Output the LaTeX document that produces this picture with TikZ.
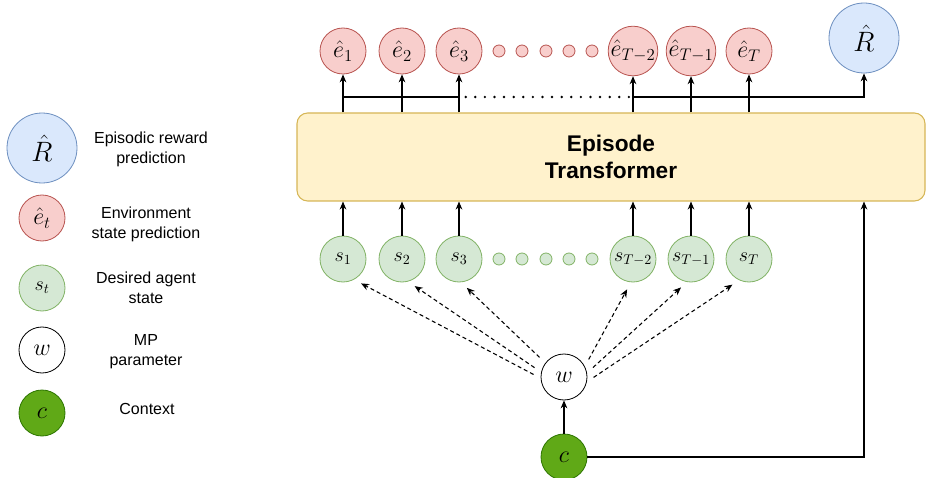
\RequirePackage{fix-cm}
\documentclass[tikz,border=0pt]{standalone}
\usepackage{fontspec}
\newfontfamily\sflabel{Liberation Sans}
\usetikzlibrary{arrows.meta,positioning}
\definecolor{efill}{HTML}{F8CECC}\definecolor{edraw}{HTML}{B85450}
\definecolor{sfill}{HTML}{D5E8D4}\definecolor{sdraw}{HTML}{82B366}
\definecolor{rfill}{HTML}{DAE8FC}\definecolor{rdraw}{HTML}{6C8EBF}
\definecolor{cfill}{HTML}{60A917}\definecolor{cdraw}{HTML}{2D7600}
\definecolor{tfill}{HTML}{FFF2CC}\definecolor{tdraw}{HTML}{D6B656}
\tikzset{
  ball/.style={circle,draw,line width=.6pt,minimum size=34.5pt,inner sep=0pt},
  enode/.style={ball,fill=efill,draw=edraw,font=\fontsize{18}{20}\selectfont},
  snode/.style={ball,fill=sfill,draw=sdraw,font=\fontsize{15}{17}\selectfont},
  rnode/.style={ball,fill=rfill,draw=rdraw,minimum size=52.5pt,font=\fontsize{21}{24}\selectfont},
  wnode/.style={ball,fill=white,draw=black,font=\fontsize{18}{20}\selectfont},
  cnode/.style={ball,fill=cfill,draw=cdraw,font=\fontsize{18}{20}\selectfont},
  edot/.style={circle,draw=edraw,fill=efill,line width=.6pt,minimum size=9pt,inner sep=0pt},
  sdot/.style={circle,draw=sdraw,fill=sfill,line width=.6pt,minimum size=9pt,inner sep=0pt},
  legtext/.style={align=center,font=\sflabel\fontsize{12}{15}\selectfont},
  arr/.style={-{Stealth[length=6pt,width=5pt]},line width=.8pt},
  darr/.style={arr,dash pattern=on 3pt off 2.2pt,shorten >=6pt,shorten <=6pt}
}
\begin{document}
\begin{tikzpicture}[x=.75pt,y=-.75pt]
\useasboundingbox (0,0) rectangle (926,478);
% legend
\node[rnode] (lR) at (42,148) {$\hat R$};
\node[enode] (le) at (42,218) {$\hat e_t$};
\node[snode] (ls) at (42,288) {$s_t$};
\node[wnode] (lw) at (42,350) {$w$};
\node[cnode] (lc) at (42,413) {$c$};
\node[legtext] (tR) at (151,149) {Episodic reward\\prediction};
\node[legtext] (te) at (146,224) {Environment\\state prediction};
\node[legtext] (ts) at (146,288) {Desired agent\\state};
\node[legtext] (tw) at (146,352) {MP\\parameter};
\node[legtext] (tc) at (147,409) {Context};
% transformer block
\node[draw=tdraw,fill=tfill,line width=.8pt,rounded corners=8pt,minimum width=471pt,minimum height=66pt,
  align=center,font=\sflabel\bfseries\fontsize{17}{20}\selectfont] (tf) at (611,157) {Episode\\Transformer};
% outputs
\node[enode] (e1) at (343,51) {$\hat e_1$};
\node[enode] (e2) at (402,51) {$\hat e_2$};
\node[enode] (e3) at (459,51) {$\hat e_3$};
\node[enode] (eT2) at (633,51) {$\hat e_{T-2}$};
\node[enode] (eT1) at (691,51) {$\hat e_{T-1}$};
\node[enode] (eT) at (749,51) {$\hat e_T$};
\node[rnode] (R) at (864,38) {$\hat R$};
\foreach \x [count=\i] in {499,522,546,569,592} \node[edot] (ed\i) at (\x,51) {};
% inputs
\node[snode] (s1) at (343,259) {$s_1$};
\node[snode] (s2) at (402,259) {$s_2$};
\node[snode] (s3) at (459,259) {$s_3$};
\node[snode] (sT2) at (633,259) {$s_{T-2}$};
\node[snode] (sT1) at (691,259) {$s_{T-1}$};
\node[snode] (sT) at (749,259) {$s_T$};
\foreach \x [count=\i] in {499,522,546,569,592} \node[sdot] (sd\i) at (\x,259) {};
\node[wnode] (w) at (564,377) {$w$};
\node[cnode] (c) at (564,457) {$c$};
\coordinate (bus) at (0,97);
% connectors
\foreach \n in {e1,e2,e3,eT2,eT1,eT} \draw[arr] (\n|-tf.north) -- (\n);
\foreach \n in {s1,s2,s3,sT2,sT1,sT} \draw[arr] (\n) -- (\n|-tf.south);
\draw[line width=.8pt] (e1|-bus) -- (e3|-bus);
\draw[line width=2pt,line cap=round,dash pattern=on 0pt off 7.2pt] ([xshift=5pt]e3|-bus) -- (eT2|-bus);
\draw[arr] (eT2|-bus) -| (R);
\foreach \n/\a/\b in {s1/183/-62,s2/168/-75,s3/143/-85,sT2/27/-95,sT1/10/-100,sT/-12/-115}
  \draw[darr] (w.\a) -- (\n.\b);
\draw[arr] (c) -- (w);
\draw[arr] (c) -| (R|-tf.south);
\end{tikzpicture}
\end{document}
